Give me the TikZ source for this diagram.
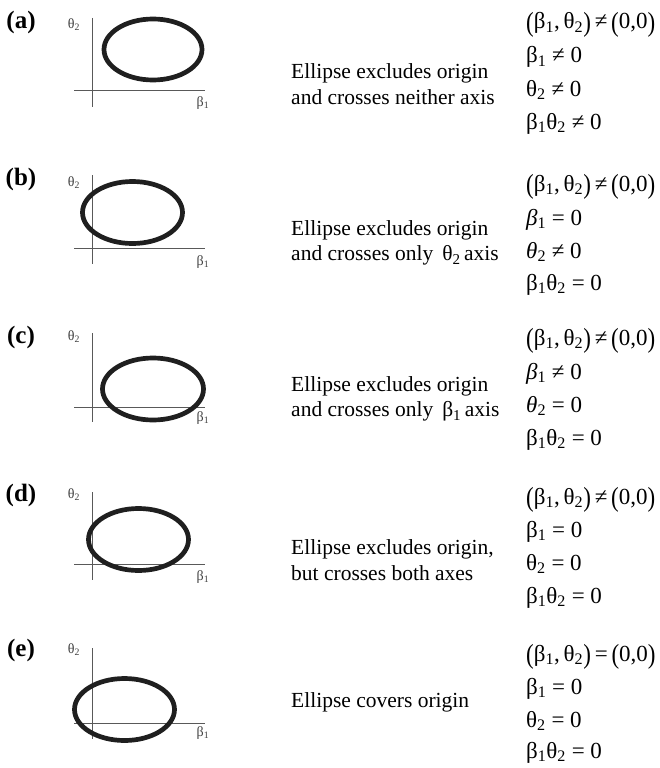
\documentclass[tikz,border=0pt]{standalone}
\usepackage{fontspec}
\setmainfont{Liberation Serif}
\newcommand{\bsub}{β\textsubscript{1}}
\newcommand{\tsub}{θ\textsubscript{2}}
\newcommand{\bit}{\textit{β}\textsubscript{1}}
\newcommand{\tit}{\textit{θ}\textsubscript{2}}
\newcommand{\lpar}{\raisebox{-0.1em}{\scalebox{1}[1.2]{(}}}
\newcommand{\rpar}{\raisebox{-0.1em}{\scalebox{1}[1.2]{)}}}
\newcommand{\pairne}{\lpar\bsub,\,\tsub\rpar\,≠\,\lpar0,0\rpar}
\newcommand{\paireq}{\lpar\bsub,\,\tsub\rpar\,=\,\lpar0,0\rpar}
\begin{document}
\begin{tikzpicture}[x=1pt,y=-1pt,
  axisline/.style={draw=black!65, line width=0.9pt},
  ell/.style={draw=black!88, line width=4.7pt},
  lbl/.style={font=\fontsize{25}{25}\selectfont\bfseries, inner sep=0pt},
  axl/.style={font=\fontsize{14}{14}\selectfont, inner sep=0pt, text=black!75},
  mid/.style={font=\fontsize{21.5}{25.5}\selectfont, align=left, inner sep=0pt, anchor=west},
  frm/.style={font=\fontsize{23}{23}\selectfont, inner sep=0pt, anchor=base west}]
\fill[white] (0,0) rectangle (659,768);
\useasboundingbox (0,0) rectangle (659,768);

% ---------- (a)
\node[lbl] (la) at (21,22) {(a)};
\draw[axisline] (92,18) -- (92,107);
\draw[axisline] (74,90) -- (205,90);
\node[axl] (ta) at (74,25) {\tsub};
\node[axl] (ba) at (203,103) {\bsub};
\draw[ell] (153,49.5) ellipse [x radius=49pt, y radius=30.5pt];
\node[mid] (ma) at (291,84) {Ellipse excludes origin\\and crosses neither axis};
\node[frm] (fa1) at (526,29) {\pairne};
\node[frm] (fa2) at (526,63) {\bsub\ ≠ 0};
\node[frm] (fa3) at (526,96) {\tsub\ ≠ 0};
\node[frm] (fa4) at (526,129) {\bsub\tsub\ ≠ 0};

% ---------- (b)
\node[lbl] (lb) at (21,179) {(b)};
\draw[axisline] (92,175) -- (92,264);
\draw[axisline] (74,248) -- (205,248);
\node[axl] (tb) at (74,183) {\tsub};
\node[axl] (bb) at (203,262) {\bsub};
\draw[ell] (132.5,212.5) ellipse [x radius=50pt, y radius=31pt];
\node[mid] (mb) at (291,243) {Ellipse excludes origin\\and crosses only \,\tsub\,axis};
\node[frm] (fb1) at (526,191) {\pairne};
\node[frm] (fb2) at (526,225) {\bit\ = 0};
\node[frm] (fb3) at (526,258) {\tit\ ≠ 0};
\node[frm] (fb4) at (526,290) {\bsub\tsub\ = 0};

% ---------- (c)
\node[lbl] (lc) at (21,337) {(c)};
\draw[axisline] (92,333) -- (92,422);
\draw[axisline] (74,407) -- (205,407);
\node[axl] (tc) at (74,337) {\tsub};
\node[axl] (bc) at (203,418) {\bsub};
\draw[ell] (153,389) ellipse [x radius=50.5pt, y radius=31pt];
\node[mid] (mc) at (291,399) {Ellipse excludes origin\\and crosses only \,\bsub\,axis};
\node[frm] (fc1) at (526,345) {\pairne};
\node[frm] (fc2) at (526,379) {\bit\ ≠ 0};
\node[frm] (fc3) at (526,412) {\tit\ = 0};
\node[frm] (fc4) at (526,445) {\bsub\tsub\ = 0};

% ---------- (d)
\node[lbl] (ld) at (21,495) {(d)};
\draw[axisline] (92,492) -- (92,580);
\draw[axisline] (74,564) -- (205,564);
\node[axl] (td) at (74,495) {\tsub};
\node[axl] (bd) at (203,577) {\bsub};
\draw[ell] (138.5,539.5) ellipse [x radius=50pt, y radius=31pt];
\node[mid] (md) at (291,560) {Ellipse excludes origin,\\but crosses both axes};
\node[frm] (fd1) at (526,504) {\pairne};
\node[frm] (fd2) at (526,537) {\bsub\ = 0};
\node[frm] (fd3) at (526,570) {\tsub\ = 0};
\node[frm] (fd4) at (526,603) {\bsub\tsub\ = 0};

% ---------- (e)
\node[lbl] (le) at (21,650) {(e)};
\draw[axisline] (92,648) -- (92,739);
\draw[axisline] (74,723) -- (205,723);
\node[axl] (te) at (74,650) {\tsub};
\node[axl] (be) at (203,733) {\bsub};
\draw[ell] (124.5,709.5) ellipse [x radius=50pt, y radius=31pt];
\node[mid] (me) at (291,702) {Ellipse covers origin};
\node[frm] (fe1) at (526,661) {\paireq};
\node[frm] (fe2) at (526,694) {\bsub\ = 0};
\node[frm] (fe3) at (526,727) {\tsub\ = 0};
\node[frm] (fe4) at (526,758) {\bsub\tsub\ = 0};
\end{tikzpicture}
\end{document}
